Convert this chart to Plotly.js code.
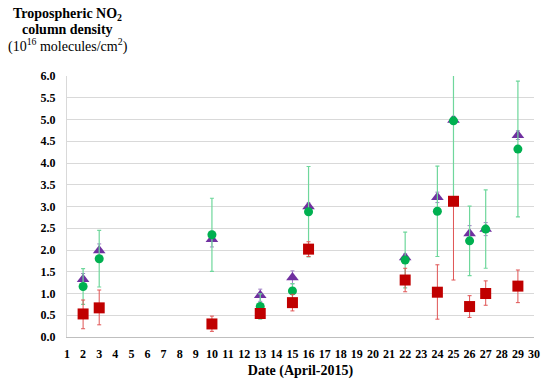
<!DOCTYPE html>
<html>
<head>
<meta charset="utf-8">
<script src="https://cdn.plot.ly/plotly-3.0.1.min.js"></script>
<style>html,body{margin:0;padding:0;background:#fff;}#chart{width:550px;height:384px;}</style>
</head>
<body>
<div id="chart"></div>
<script>
const days = [2, 3, 10, 13, 15, 16, 22, 24, 25, 26, 27, 29];
const purpleVals = [1.33, 1.99, 2.25, 0.96, 1.37, 3.00, 1.83, 3.21, 4.99, 2.38, 2.48, 4.64];
const purpleErr  = [0.13, 0.15, 0.18, 0.14, 0.15, 0.08, 0.08, 0.12, 0.08, 0.18, 0.15, 0.10];
const greenVals  = [1.16, 1.80, 2.35, 0.70, 1.06, 2.88, 1.77, 2.89, 4.97, 2.21, 2.48, 4.32];
const greenErr   = [0.41, 0.65, 0.84, 0.29, 0.17, 1.04, 0.64, 1.04, 1.85, 0.80, 0.90, 1.56];
const redVals    = [0.53, 0.67, 0.30, 0.54, 0.79, 2.02, 1.31, 1.03, 3.12, 0.70, 1.00, 1.17];
const redErrPlus = [0.32, 0.41, 0.18, 0.11, 0.19, 0.17, 0.27, 0.63, 0.10, 0.25, 0.29, 0.37];
const redErrMinus= [0.34, 0.39, 0.17, 0.11, 0.19, 0.17, 0.27, 0.62, 1.81, 0.25, 0.27, 0.38];
const xTicks = Array.from({length: 30}, (_, i) => i + 1);
const yTicks = [0, 0.5, 1, 1.5, 2, 2.5, 3, 3.5, 4, 4.5, 5, 5.5, 6];

const FONT = 'Liberation Serif, DejaVu Serif, serif';

const traces = [
  {
    x: days, y: purpleVals, type: 'scatter', mode: 'markers',
    marker: {symbol: 'triangle-up', size: 11, color: '#7030A0'},
    error_y: {type: 'data', array: purpleErr, visible: true, color: '#9E7BC4', thickness: 1, width: 2},
    hoverinfo: 'skip'
  },
  {
    x: days, y: greenVals, type: 'scatter', mode: 'markers',
    marker: {symbol: 'circle', size: 9, color: '#00B050'},
    error_y: {type: 'data', array: greenErr, visible: true, color: '#6FD79C', thickness: 1.2, width: 2},
    hoverinfo: 'skip'
  },
  {
    x: days, y: redVals, type: 'scatter', mode: 'markers',
    marker: {symbol: 'square', size: 11, color: '#C00000'},
    error_y: {type: 'data', symmetric: false, array: redErrPlus, arrayminus: redErrMinus, visible: true, color: '#E05555', thickness: 1, width: 2},
    hoverinfo: 'skip'
  }
];

const layout = {
  width: 550, height: 384,
  margin: {l: 67, r: 16, t: 76, b: 47},
  paper_bgcolor: '#ffffff', plot_bgcolor: '#ffffff',
  showlegend: false,
  font: {family: FONT, color: '#000'},
  xaxis: {
    range: [1, 30], tickvals: xTicks, ticktext: xTicks.map(String),
    showgrid: false, zeroline: false,
    showline: true, linecolor: '#BFBFBF', linewidth: 1,
    ticks: '', ticklabelstandoff: 6,
    tickfont: {family: FONT, size: 12, color: '#000', weight: 'bold'},
    title: {text: '<b>Date (April-2015)</b>', font: {family: FONT, size: 14, color: '#000'}, standoff: 4}
  },
  yaxis: {
    range: [0, 6], tickvals: yTicks, ticktext: yTicks.map(v => v.toFixed(1)),
    showgrid: true, gridcolor: '#D9D9D9', gridwidth: 1,
    zeroline: false, showline: true, linecolor: '#D9D9D9', linewidth: 1,
    ticks: '', ticklabelstandoff: 8,
    tickfont: {family: FONT, size: 12, color: '#000', weight: 'bold'}
  },
  annotations: [
    {text: '<b>Tropospheric NO<sub>2</sub></b>', xref: 'paper', yref: 'paper', x: 0.002, y: (337 - 14) / 261, xanchor: 'center', yanchor: 'middle', showarrow: false, font: {family: FONT, size: 14, color: '#000'}},
    {text: '<b>column density</b>', xref: 'paper', yref: 'paper', x: 0.002, y: (337 - 29) / 261, xanchor: 'center', yanchor: 'middle', showarrow: false, font: {family: FONT, size: 14, color: '#000'}},
    {text: '(10<sup>16</sup> molecules/cm<sup>2</sup>)', xref: 'paper', yref: 'paper', x: 0.002, y: (337 - 45) / 261, xanchor: 'center', yanchor: 'middle', showarrow: false, font: {family: FONT, size: 14, color: '#000'}}
  ]
};

Plotly.newPlot('chart', traces, layout, {displayModeBar: false, staticPlot: true});
</script>
</body>
</html>
